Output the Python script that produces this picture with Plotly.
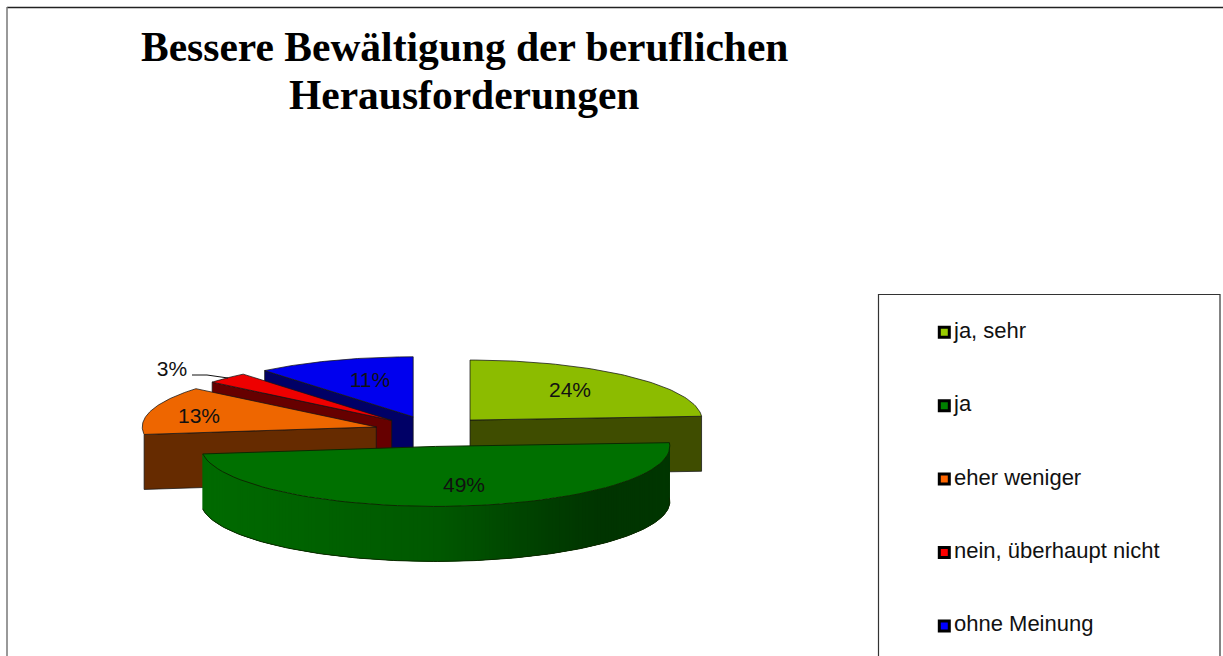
import math
import plotly.graph_objects as go

# --- data ---
TITLE_LINES = ["Bessere Bewältigung der beruflichen", "Herausforderungen"]
CATEGORIES = ["ja, sehr", "ja", "eher weniger", "nein, überhaupt nicht", "ohne Meinung"]
SHARES = [24, 49, 13, 3, 11]
TOP_COLORS = ["#8CBC00", "#007000", "#EE6600", "#EE0000", "#0000EE"]
SIDE_COLORS = ["#3F4D00", "#006800", "#662B00", "#660000", "#000066"]
LEGEND_COLORS = ["#99CC00", "#008000", "#FF6600", "#FF0000", "#0000FF"]

# --- pie geometry (page pixels) ---
CX, CY = 431.0, 431.2
SLICE_RX = [232.0, 234.5, 234.0, 233.0, 233.0]
SLICE_NUDGE_X = [0.0, -1.0, 0.0, 1.0, 1.5]
RY = 60.0
DEPTH = 55.0
EXPLODE = 57.0
EXPLODE_Y = 15.3
LABEL_XY = [(570, 392), (464, 487), (199, 418), (172, 371), (370, 382)]
LEGEND_X, LEGEND_Y0, LEGEND_DY = 944.3, 332.3, 73.4
FONT = "Liberation Sans"

fig = go.Figure()


def poly(xs, ys, fill, line, width=1.0):
    fig.add_trace(go.Scatter(x=xs, y=ys, mode="lines", fill="toself", fillcolor=fill,
                             line=dict(color=line, width=width), hoverinfo="skip",
                             showlegend=False))


def arc(ax, ay, rx, a0, a1, n=60):
    pts = [a0 + (a1 - a0) * i / n for i in range(n + 1)]
    return ([ax + rx * math.sin(math.radians(t)) for t in pts],
            [ay - RY * math.cos(math.radians(t)) for t in pts])


# slice angles, clockwise from 12 o'clock
total = sum(SHARES)
slices = []
acc = 0.0
for i, s in enumerate(SHARES):
    a0 = acc / total * 360
    acc += s
    a1 = acc / total * 360
    mid = math.radians((a0 + a1) / 2)
    slices.append(dict(a0=a0, a1=a1, rx=SLICE_RX[i],
                       ax=CX + EXPLODE * math.sin(mid) + SLICE_NUDGE_X[i],
                       ay=CY - EXPLODE_Y * math.cos(mid)))


def ramp(stops, f):
    for (f0, c0), (f1, c1) in zip(stops, stops[1:]):
        if f <= f1:
            u = (f - f0) / (f1 - f0)
            return "rgb(0,%d,0)" % round(c0 + (c1 - c0) * u)
    return "rgb(0,%d,0)" % stops[-1][1]


GREEN_RAMP = [(0, 0x6A), (0.5, 0x58), (0.75, 0x3C), (0.85, 0x34), (1, 0x36)]
EDGE = "rgba(20,20,20,0.75)"
# which end of the slice shows its cut face to the viewer
CUT_FACE_END = {0: "a1", 2: "a0", 3: "a0", 4: "a0"}

# painter's order: back slices first
for idx in [4, 3, 2, 0, 1]:
    s = slices[idx]
    ax, ay, rx, a0, a1 = s["ax"], s["ay"], s["rx"], s["a0"], s["a1"]
    if idx == 1:
        # outer rim of the front slice, overlapping strips for the shading
        n = 180
        xs, ys = arc(ax, ay, rx, a0, a1, n)
        lo, hi = min(xs), max(xs)
        for k in range(n):
            j = min(k + 3, n)
            f = ((xs[k] + xs[j]) / 2 - lo) / (hi - lo)
            tx, ty = xs[k:j + 1], ys[k:j + 1]
            poly(tx + tx[::-1] + tx[:1], ty + [v + DEPTH for v in ty[::-1]] + ty[:1],
                 ramp(GREEN_RAMP, f), "rgba(0,0,0,0)", 0)
        fig.add_trace(go.Scatter(x=xs, y=[v + DEPTH for v in ys], mode="lines",
                                 line=dict(color="#0b2a00", width=1), hoverinfo="skip",
                                 showlegend=False))
    else:
        e = s[CUT_FACE_END[idx]]
        xe, ye = arc(ax, ay, rx, e, e, 1)
        poly([ax, xe[0], xe[0], ax, ax], [ay, ye[0], ye[0] + DEPTH, ay + DEPTH, ay],
             SIDE_COLORS[idx], EDGE)
    xs, ys = arc(ax, ay, rx, a0, a1)
    poly([ax] + xs + [ax], [ay] + ys + [ay], TOP_COLORS[idx], "#0b2a00" if idx == 1 else EDGE)

# percentage labels
for share, (lx, ly) in zip(SHARES, LABEL_XY):
    fig.add_trace(go.Scatter(x=[lx], y=[ly], mode="text", text=[f"{share}%"],
                             textposition="middle center", hoverinfo="skip", showlegend=False,
                             textfont=dict(family=FONT, size=21, color="#111111")))
# leader line of the 3% label
fig.add_trace(go.Scatter(x=[192, 207, 228], y=[375, 375, 378], mode="lines",
                         line=dict(color="#111111", width=1), hoverinfo="skip", showlegend=False))

# legend
for k, (name, col) in enumerate(zip(CATEGORIES, LEGEND_COLORS)):
    y = LEGEND_Y0 + k * LEGEND_DY
    fig.add_trace(go.Scatter(x=[LEGEND_X], y=[y], mode="markers",
                             marker=dict(symbol="square", size=10, color=col,
                                         line=dict(color="#000000", width=3)),
                             hovertemplate=name + "<extra></extra>", showlegend=False))
    fig.add_trace(go.Scatter(x=[LEGEND_X + 9.7], y=[y], mode="text", text=[name],
                             textposition="middle right", hoverinfo="skip", showlegend=False,
                             textfont=dict(family=FONT, size=22, color="#111111")))

TITLE_FONT = dict(family="Liberation Serif", size=41.5, color="#000000", weight="bold")
fig.update_layout(
    width=1223, height=656, margin=dict(l=0, r=0, t=0, b=0),
    paper_bgcolor="white", plot_bgcolor="white",
    xaxis=dict(range=[0, 1223], visible=False, fixedrange=True),
    yaxis=dict(range=[656, 0], visible=False, fixedrange=True),
    annotations=[
        dict(text=line, x=464, y=yy, xref="x", yref="y", showarrow=False, font=TITLE_FONT,
             xanchor="center", yanchor="middle")
        for line, yy in zip(TITLE_LINES, [47, 95])
    ],
    shapes=[
        dict(type="line", x0=7, x1=1223, y0=7.5, y1=7.5, line=dict(color="#222222", width=1.5)),
        dict(type="line", x0=7, x1=7, y0=7, y1=660, line=dict(color="#777777", width=1.5)),
        dict(type="rect", x0=878.5, x1=1220, y0=294.5, y1=700, line=dict(color="#333333", width=1.2)),
    ],
)
fig.write_html("out.html", config=dict(displayModeBar=False),
               post_script="document.body.style.margin='0';")
